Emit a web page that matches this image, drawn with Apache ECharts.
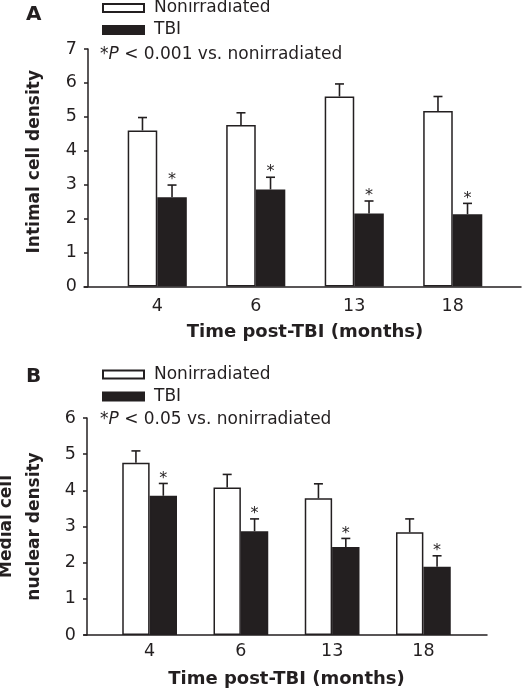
<!DOCTYPE html>
<html>
<head>
<meta charset="utf-8">
<script src="https://cdn.jsdelivr.net/npm/echarts@6/dist/echarts.min.js"></script>
<style>html,body{margin:0;padding:0;background:#fff;}#c{width:522px;height:691px;}</style>
</head>
<body>
<div id="c"></div>
<script>
const categories = ['4', '6', '13', '18'];
const seriesNames = ['Nonirradiated', 'TBI'];
// Panel A: Intimal cell density
const aNon = [4.60, 4.76, 5.60, 5.17];
const aNonErr = [0.38, 0.36, 0.37, 0.43];
const aTbi = [2.63, 2.86, 2.15, 2.13];
const aTbiErr = [0.36, 0.36, 0.37, 0.32];
// Panel B: Medial cell nuclear density
const bNon = [4.76, 4.08, 3.78, 2.84];
const bNonErr = [0.33, 0.36, 0.40, 0.37];
const bTbi = [3.85, 2.87, 2.43, 1.89];
const bTbiErr = [0.34, 0.34, 0.24, 0.30];
const aYTicks = [0, 1, 2, 3, 4, 5, 6, 7];
const bYTicks = [0, 1, 2, 3, 4, 5, 6];

const INK = '#231f20';
const FONT = '"DejaVu Sans", Verdana, sans-serif';

function errRender(sign, star) {
  return function (params, api) {
    const i = api.value(0), v = api.value(1), e = api.value(2);
    const band = api.size([1, 0])[0];
    const base = api.coord([i, v]);
    const top = api.coord([i, v + e]);
    const x = base[0] + sign * band * 0.15;
    const st = { stroke: INK, lineWidth: 1.6 };
    const children = [
      { type: 'line', shape: { x1: x, y1: base[1], x2: x, y2: top[1] }, style: st },
      { type: 'line', shape: { x1: x - 4.5, y1: top[1], x2: x + 4.5, y2: top[1] }, style: st }
    ];
    if (star) {
      children.push({ type: 'text', style: { text: '*', x: x, y: top[1] + 3, align: 'center', verticalAlign: 'bottom', font: '16px ' + FONT, fill: INK } });
    }
    return { type: 'group', children: children };
  };
}

function errData(vals, errs) { return categories.map((c, i) => [i, vals[i], errs[i]]); }

function barSeries(name, data, xi, fill) {
  return {
    type: 'bar', name: name, xAxisIndex: xi, yAxisIndex: xi, data: data,
    barGap: '0%', barCategoryGap: '40%',
    itemStyle: { color: fill, borderColor: INK, borderWidth: 1.5 }
  };
}
function errSeries(vals, errs, xi, sign, star) {
  return {
    type: 'custom', xAxisIndex: xi, yAxisIndex: xi, z: 5,
    data: errData(vals, errs), encode: { x: 0, y: 1 },
    renderItem: errRender(sign, star)
  };
}

function catAxis(gi, margin, nameGap) {
  return {
    type: 'category', gridIndex: gi, data: categories,
    axisLine: { show: false }, axisTick: { show: false },
    axisLabel: { fontSize: 17.5, color: INK, margin: margin, fontFamily: FONT },
    name: 'Time post-TBI (months)', nameLocation: 'middle', nameGap: nameGap,
    nameTextStyle: { fontSize: 18, fontWeight: 'bold', color: INK, fontFamily: FONT }
  };
}
function lineAxis(gi) {
  return {
    type: 'value', gridIndex: gi, min: 0, max: 1,
    axisLine: { show: true, lineStyle: { color: INK, width: 1.5 } },
    axisTick: { show: false }, axisLabel: { show: false }, splitLine: { show: false }
  };
}
function valAxis(gi, ticks, offset, name, nameGap, pad) {
  return {
    type: 'value', gridIndex: gi, min: ticks[0], max: ticks[ticks.length - 1], interval: 1,
    offset: offset,
    axisLine: { show: true, lineStyle: { color: INK, width: 1.5 } },
    axisTick: { show: true, length: 4, lineStyle: { color: INK, width: 1.5 } },
    axisLabel: { fontSize: 17.5, color: INK, margin: 11, fontFamily: FONT },
    splitLine: { show: false },
    name: name, nameLocation: 'middle', nameGap: nameGap,
    nameTextStyle: { fontSize: 17, fontWeight: 'bold', color: INK, fontFamily: FONT, lineHeight: 28, padding: pad }
  };
}
function legend(top) {
  return {
    data: seriesNames.map(n => ({ name: n, icon: 'rect' })), orient: 'vertical', left: 102, top: top, padding: 0,
    itemWidth: 41, itemHeight: 8, itemGap: 2,
    textStyle: { fontSize: 17, color: INK, fontFamily: FONT, lineHeight: 20, padding: [0, 0, 0, 5] },
    selectedMode: false
  };
}
function grid(left, width, top, height) {
  return { left: left, width: width, top: top, height: height, containLabel: false, outerBoundsMode: 'none' };
}
function note(text, top) {
  return { text: text, left: 100, top: top, padding: 0,
    textStyle: { fontSize: 17, fontWeight: 'normal', color: INK, fontFamily: FONT,
      rich: { i: { fontStyle: 'italic', fontSize: 17, color: INK, fontFamily: FONT } } } };
}

const chart = echarts.init(document.getElementById('c'));
chart.setOption({
  animation: false,
  backgroundColor: '#fff',
  textStyle: { fontFamily: FONT },
  title: [
    { text: 'A', left: 26, top: 5, padding: 0, textStyle: { fontSize: 20, fontWeight: 'bold', color: INK, fontFamily: FONT } },
    note('*{i|P} < 0.001 vs. nonirradiated', 46),
    { text: 'B', left: 26, top: 367, padding: 0, textStyle: { fontSize: 20, fontWeight: 'bold', color: INK, fontFamily: FONT } },
    note('*{i|P} < 0.05 vs. nonirradiated', 411)
  ],
  legend: [legend(-2), legend(364.5)],
  grid: [
    grid(108, 394, 49, 237.5),
    grid(84, 437, 49, 237.5),
    grid(104, 365, 418, 217),
    grid(84, 403, 418, 217)
  ],
  xAxis: [catAxis(0, 11, 37), lineAxis(1), catAxis(2, 7, 35), lineAxis(3)],
  yAxis: [
    valAxis(0, aYTicks, 20, 'Intimal cell density', 39, [0, 0, 0, 12]),
    { type: 'value', gridIndex: 1, show: false },
    valAxis(2, bYTicks, 17, 'Medial cell\nnuclear density', 38, [0, 0, 0, 0]),
    { type: 'value', gridIndex: 3, show: false }
  ],
  series: [
    barSeries('Nonirradiated', aNon, 0, '#ffffff'),
    barSeries('TBI', aTbi, 0, INK),
    errSeries(aNon, aNonErr, 0, -1, false),
    errSeries(aTbi, aTbiErr, 0, 1, true),
    barSeries('Nonirradiated', bNon, 2, '#ffffff'),
    barSeries('TBI', bTbi, 2, INK),
    errSeries(bNon, bNonErr, 2, -1, false),
    errSeries(bTbi, bTbiErr, 2, 1, true)
  ]
});
</script>
</body>
</html>
